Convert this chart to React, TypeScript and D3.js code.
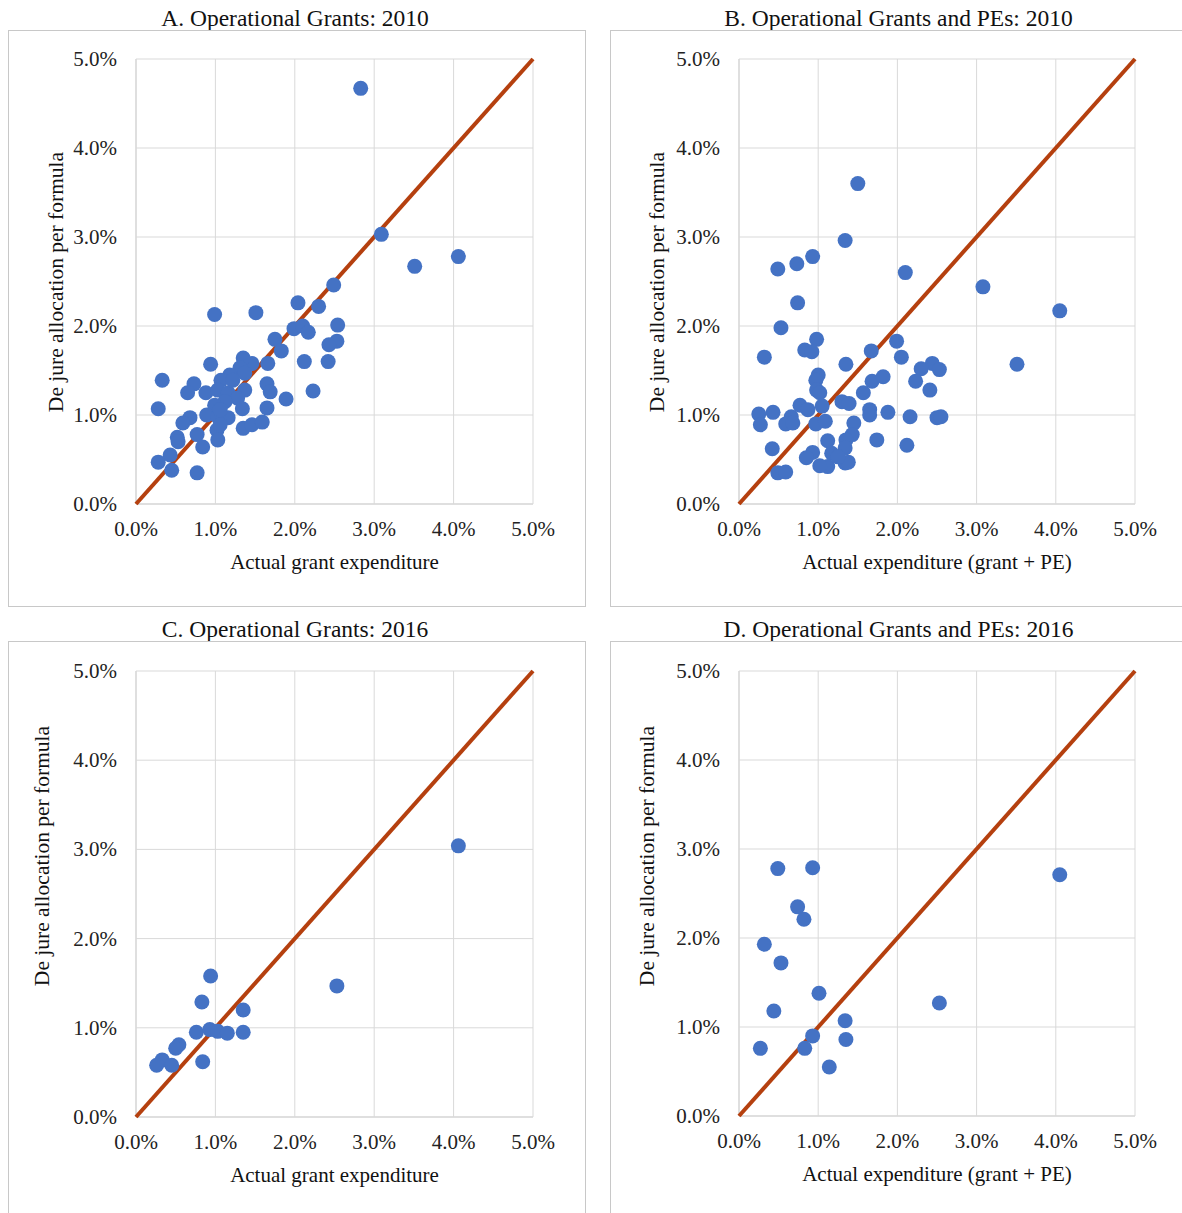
import { scaleLinear } from 'd3'

// values are percent shares: [actual expenditure, de jure allocation]
const grants2010: [number, number][] = [
  [2.83, 4.67], [3.09, 3.03], [3.51, 2.67], [4.06, 2.78], [2.49, 2.46], [2.30, 2.22], [2.04, 2.26],
  [0.99, 2.13], [1.51, 2.15], [2.54, 2.01], [1.99, 1.97], [2.10, 2.00], [2.17, 1.93], [2.53, 1.83],
  [2.43, 1.79], [1.75, 1.85], [1.83, 1.72], [2.42, 1.60], [2.12, 1.60], [1.66, 1.58], [1.46, 1.58],
  [1.35, 1.64], [0.94, 1.57], [1.31, 1.53], [1.37, 1.47], [1.18, 1.45], [1.07, 1.39], [1.65, 1.35],
  [1.69, 1.26], [2.23, 1.27], [1.89, 1.18], [0.33, 1.39], [0.73, 1.35], [0.65, 1.25], [0.88, 1.25],
  [1.03, 1.28], [1.16, 1.25], [1.37, 1.28], [1.28, 1.19], [1.12, 1.15], [0.99, 1.11], [1.34, 1.07],
  [1.65, 1.08], [0.28, 1.07], [0.89, 1.00], [1.03, 0.98], [1.16, 0.97], [0.68, 0.97], [0.59, 0.91],
  [1.35, 0.85], [1.46, 0.89], [1.59, 0.92], [1.02, 0.83], [1.06, 1.06], [1.03, 0.72], [0.77, 0.78],
  [0.52, 0.75], [0.53, 0.70], [0.84, 0.64], [0.43, 0.55], [0.28, 0.47], [0.45, 0.38], [0.77, 0.35],
  [1.06, 0.89], [1.22, 1.39],
]

const grantsPe2010: [number, number][] = [
  [1.50, 3.60], [1.34, 2.96], [0.49, 2.64], [0.73, 2.70], [0.93, 2.78], [2.10, 2.60], [3.08, 2.44],
  [4.05, 2.17], [0.74, 2.26], [0.53, 1.98], [0.32, 1.65], [0.98, 1.85], [0.83, 1.73], [0.92, 1.71],
  [1.67, 1.72], [1.99, 1.83], [2.05, 1.65], [1.35, 1.57], [3.51, 1.57], [2.44, 1.58], [2.53, 1.51],
  [2.30, 1.52], [2.23, 1.38], [2.41, 1.28], [1.68, 1.38], [1.82, 1.43], [1.00, 1.45], [0.97, 1.39],
  [0.98, 1.28], [1.02, 1.25], [1.57, 1.25], [1.05, 1.10], [0.77, 1.11], [0.87, 1.06], [0.66, 0.98],
  [0.59, 0.90], [0.68, 0.91], [0.43, 1.03], [0.25, 1.01], [0.27, 0.89], [0.97, 0.90], [1.09, 0.93],
  [1.30, 1.15], [1.39, 1.13], [1.65, 1.06], [1.65, 1.00], [1.88, 1.03], [2.16, 0.98], [2.50, 0.97],
  [2.55, 0.98], [1.45, 0.91], [1.43, 0.78], [1.35, 0.72], [1.34, 0.63], [1.34, 0.46], [1.38, 0.47],
  [1.12, 0.71], [1.17, 0.57], [1.12, 0.42], [1.02, 0.43], [0.93, 0.58], [0.85, 0.52], [0.42, 0.62],
  [0.49, 0.35], [0.59, 0.36], [1.74, 0.72], [2.12, 0.66], [1.25, 0.53],
]

const grants2016: [number, number][] = [
  [4.06, 3.04], [2.53, 1.47], [0.94, 1.58], [0.83, 1.29], [1.35, 1.20], [0.76, 0.95], [0.93, 0.98],
  [1.03, 0.96], [1.15, 0.94], [1.35, 0.95], [0.54, 0.81], [0.50, 0.77], [0.84, 0.62], [0.33, 0.64],
  [0.26, 0.58], [0.45, 0.58],
]

const grantsPe2016: [number, number][] = [
  [0.49, 2.78], [0.93, 2.79], [0.74, 2.35], [0.82, 2.21], [0.32, 1.93], [0.53, 1.72], [1.01, 1.38],
  [0.44, 1.18], [1.34, 1.07], [0.93, 0.90], [1.35, 0.86], [0.27, 0.76], [0.83, 0.76], [1.14, 0.55],
  [4.05, 2.71], [2.53, 1.27],
]

const ticks = [0, 1, 2, 3, 4, 5]
const titles = [
  'A. Operational Grants: 2010',
  'B. Operational Grants and PEs: 2010',
  'C. Operational Grants: 2016',
  'D. Operational Grants and PEs: 2016',
]
const xLabels = ['Actual grant expenditure', 'Actual expenditure (grant + PE)']
const yLabel = 'De jure allocation per formula'

const font = "'Liberation Serif', 'Times New Roman', serif"
const blue = '#4472C4'
const rust = '#B5400F'
const grid = '#d9d9d9'

type PanelProps = {
  data: [number, number][]
  title: string
  xLabel: string
  box: { x: number; y: number; w: number; h: number }
  plot: { x0: number; x1: number; y0: number; y1: number }
  yLab: { x: number; y: number }
}

function Panel({ data, title, xLabel, box, plot, yLab }: PanelProps) {
  const x = scaleLinear().domain([0, 5]).range([plot.x0, plot.x1])
  const y = scaleLinear().domain([0, 5]).range([plot.y1, plot.y0])
  const cx = (plot.x0 + plot.x1) / 2
  return (
    <g>
      <text x={box.x + box.w / 2 - 2} y={box.y - 5} textAnchor="middle" fontSize={23.5} fill="#111">
        {title}
      </text>
      <rect x={box.x} y={box.y} width={box.w} height={box.h} fill="#fff" stroke="#c8c8c8" />
      {ticks.map((t) => (
        <g key={t}>
          <line x1={x(t)} x2={x(t)} y1={y(0)} y2={y(5)} stroke={t === 0 ? '#bfbfbf' : grid} />
          <line x1={x(0)} x2={x(5)} y1={y(t)} y2={y(t)} stroke={t === 0 ? '#bfbfbf' : grid} />
          <text x={x(t)} y={y(0) + 32} textAnchor="middle" fontSize={21} fill="#222">
            {t.toFixed(1) + '%'}
          </text>
          <text x={x(0) - 19} y={y(t) + 7} textAnchor="end" fontSize={21} fill="#222">
            {t.toFixed(1) + '%'}
          </text>
        </g>
      ))}
      <line x1={x(0)} y1={y(0)} x2={x(5)} y2={y(5)} stroke={rust} strokeWidth={4} />
      {data.map((d, i) => (
        <circle key={i} cx={x(d[0])} cy={y(d[1])} r={7.5} fill={blue} />
      ))}
      <text x={cx} y={y(0) + 65} textAnchor="middle" fontSize={21} fill="#111">
        {xLabel}
      </text>
      <text
        transform={`translate(${yLab.x},${yLab.y}) rotate(-90)`}
        textAnchor="middle"
        fontSize={21.5}
        fill="#111"
      >
        {yLabel}
      </text>
    </g>
  )
}

export default function App() {
  return (
    <svg
      width={1182}
      height={1213}
      style={{ position: 'absolute', left: 0, top: 0, background: '#fff' }}
      fontFamily={font}
    >
      <Panel
        data={grants2010}
        title={titles[0]}
        xLabel={xLabels[0]}
        box={{ x: 8.5, y: 30.5, w: 577, h: 576 }}
        plot={{ x0: 136, x1: 533, y0: 59, y1: 504 }}
        yLab={{ x: 63, y: 282 }}
      />
      <Panel
        data={grantsPe2010}
        title={titles[1]}
        xLabel={xLabels[1]}
        box={{ x: 610.5, y: 30.5, w: 580, h: 576 }}
        plot={{ x0: 739, x1: 1135, y0: 59, y1: 504 }}
        yLab={{ x: 664, y: 282 }}
      />
      <Panel
        data={grants2016}
        title={titles[2]}
        xLabel={xLabels[0]}
        box={{ x: 8.5, y: 641.5, w: 577, h: 600 }}
        plot={{ x0: 136, x1: 533, y0: 671, y1: 1117 }}
        yLab={{ x: 49, y: 856 }}
      />
      <Panel
        data={grantsPe2016}
        title={titles[3]}
        xLabel={xLabels[1]}
        box={{ x: 610.5, y: 641.5, w: 580, h: 600 }}
        plot={{ x0: 739, x1: 1135, y0: 671, y1: 1116 }}
        yLab={{ x: 654, y: 856 }}
      />
    </svg>
  )
}
